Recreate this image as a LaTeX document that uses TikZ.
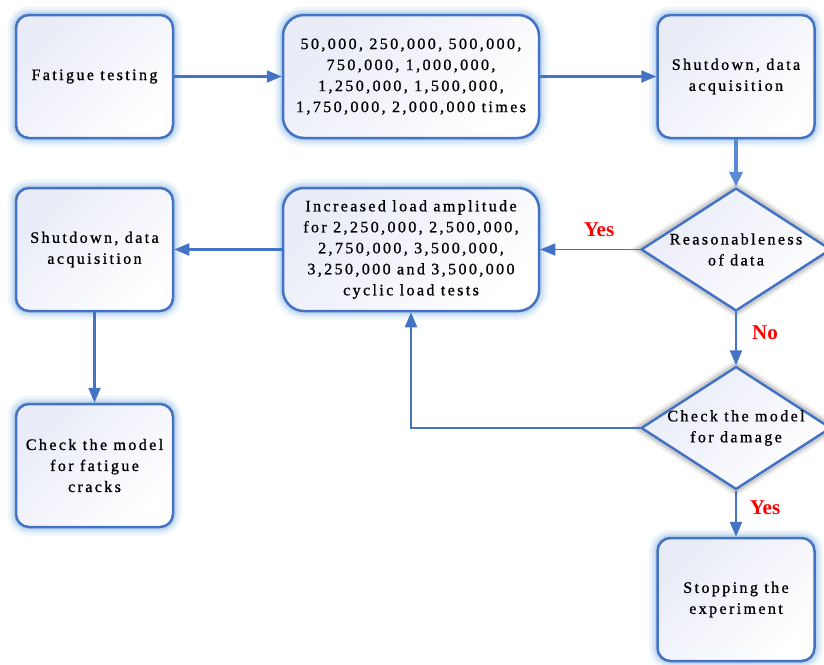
\documentclass[tikz,border=0pt]{standalone}
\usepackage{fontspec}
\setmainfont{Liberation Serif}
\newfontfamily\boxfont[LetterSpace=15,FakeBold=1]{Liberation Serif}
\usetikzlibrary{shapes.geometric,arrows.meta}
\definecolor{bord}{RGB}{68,114,196}
\definecolor{glow}{RGB}{189,215,238}
\definecolor{fillA}{RGB}{233,235,247}
\definecolor{shad}{RGB}{140,140,140}
\definecolor{thickline}{RGB}{90,140,214}
\tikzset{
  txt/.style={align=center, font=\boxfont\fontsize{16}{21}\selectfont, inner sep=0pt},
  box/.style={rectangle, rounded corners=13pt, draw=bord, line width=2.5pt,
    top color=fillA, bottom color=white, shading angle=45,
    preaction={draw=glow, line width=17pt, opacity=0.25},
    preaction={draw=glow, line width=11pt, opacity=0.45},
    preaction={draw=glow, line width=6pt},
    minimum width=157pt, minimum height=123pt, txt},
  widebox/.style={box, rounded corners=21pt, minimum width=256pt},
  dia/.style={diamond, draw=bord, line width=2.5pt,
    top color=fillA, bottom color=white, shading angle=45,
    preaction={draw=shad, line width=13pt, opacity=0.15},
    preaction={draw=shad, line width=8pt, opacity=0.3},
    minimum width=190pt, minimum height=123pt, inner sep=0pt},
  arr/.style={draw=bord, line width=2.3pt, -{Triangle[length=15pt,width=12pt]}},
  arrthin/.style={arr, line width=1.5pt},
  arrthick/.style={draw=thickline, line width=4pt, -{Triangle[length=15pt,width=13pt]}},
  lab/.style={text=red, font=\bfseries\fontsize{21}{24}\selectfont, inner sep=0pt}
}
\begin{document}
\begin{tikzpicture}[x=1pt,y=-1pt]
\useasboundingbox (0,0) rectangle (824,664);
\node[box] (A) at (94.5,76.5) {Fatigue testing};
\node[widebox] (B) at (411,76.5) {50,000, 250,000, 500,000,\\750,000, 1,000,000,\\1,250,000, 1,500,000,\\1,750,000, 2,000,000 times};
\node[box] (C) at (736,76.5) {Shutdown, data\\acquisition};
\node[dia] (D1) at (736,249.5) {};
\node[txt] (D1t) at (D1) {Reasonableness\\of data};
\node[widebox] (E) at (411,249.5) {Increased load amplitude\\for 2,250,000, 2,500,000,\\2,750,000, 3,500,000,\\3,250,000 and 3,500,000\\cyclic load tests};
\node[box] (F) at (94.5,249.5) {Shutdown, data\\acquisition};
\node[box] (G) at (94.5,465.5) {Check the model\\for fatigue\\cracks};
\node[dia] (D2) at (736,428) {};
\node[txt] (D2t) at (D2) {Check the model\\for damage};
\node[box] (H) at (736,599.5) {Stopping the\\experiment};

\draw[arr] (A) -- (B);
\draw[arr] (B) -- (C);
\draw[arrthick] (C.south) -- (D1.north);
\draw[arrthin] (D1.west) -- (E.east);
\draw[arr] (D1.south) -- (D2.north);
\draw[arr] (D2.west) -| (E.south);
\draw[arr] (E.west) -- (F.east);
\draw[arr] (F.south) -- (G.north);
\draw[arr] (D2.south) -- (H.north);

\node[lab] (y1) at (599,230) {Yes};
\node[lab] (n1) at (765,333) {No};
\node[lab] (y2) at (765,508) {Yes};
\end{tikzpicture}
\end{document}
